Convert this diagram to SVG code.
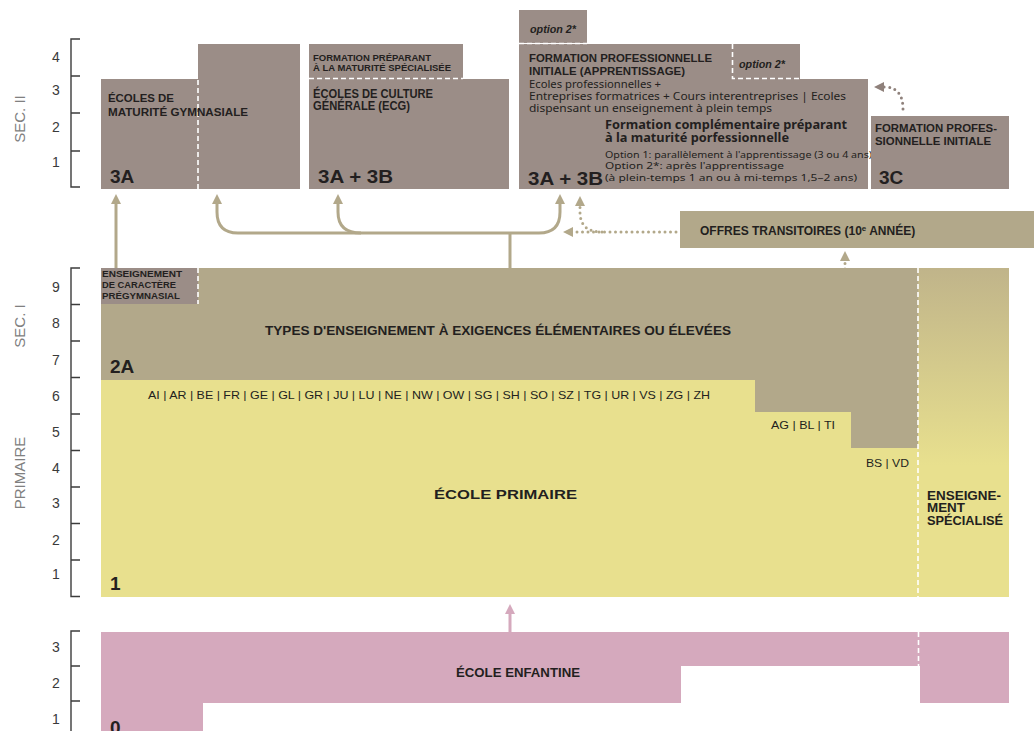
<svg xmlns="http://www.w3.org/2000/svg" width="1034" height="731" viewBox="0 0 1034 731">
<defs>
<style>
.t{font-family:"Liberation Sans",Arial,sans-serif;fill:#231f20}
.b{font-weight:bold}
.big{font-family:"Liberation Sans",Arial,sans-serif;font-weight:bold;font-size:19px;fill:#231f20}
.n{font-family:"Liberation Sans",Arial,sans-serif;font-size:14px;fill:#3a3a3a;text-anchor:middle}
.sec{font-family:"Liberation Sans",Arial,sans-serif;font-size:15px;fill:#808080;text-anchor:middle}
.ns{font-family:"Noto Sans","Liberation Sans",Arial,sans-serif;fill:#231f20}
.grey{fill:#9b8d87}
.khaki{fill:#b2a88a}
.yellow{fill:#e8e08e}
.pink{fill:#d5a9bd}
.axis{fill:none;stroke:#3c3c3c;stroke-width:1.4}
.sep{fill:none;stroke:#ffffff;stroke-width:1.6;stroke-dasharray:5 3}
.con{fill:none;stroke:#b2a88a;stroke-width:3}
.dot{fill:none;stroke:#b2a88a;stroke-width:3;stroke-linecap:round;stroke-dasharray:0 5.5}
.dotg{fill:none;stroke:#8f817b;stroke-width:3;stroke-linecap:round;stroke-dasharray:0 5.5}
.conp{fill:none;stroke:#d5a9bd;stroke-width:3}
</style>
<marker id="ahK" viewBox="0 0 10 10" refX="0" refY="5" markerWidth="10" markerHeight="11" markerUnits="userSpaceOnUse" orient="auto"><path d="M0,0 L10,5 L0,10 z" fill="#b2a88a"/></marker>
<marker id="ahG" viewBox="0 0 10 10" refX="0" refY="5" markerWidth="10" markerHeight="11" markerUnits="userSpaceOnUse" orient="auto"><path d="M0,0 L10,5 L0,10 z" fill="#8f817b"/></marker>
<marker id="ahP" viewBox="0 0 10 10" refX="0" refY="5" markerWidth="10" markerHeight="11" markerUnits="userSpaceOnUse" orient="auto"><path d="M0,0 L10,5 L0,10 z" fill="#d5a9bd"/></marker>
<linearGradient id="gSpec" x1="0" y1="0" x2="0" y2="1">
<stop offset="0" stop-color="#c0b48a"/>
<stop offset="0.6" stop-color="#e8e08e"/>
<stop offset="1" stop-color="#e8e08e"/>
</linearGradient>
</defs>
<rect width="1034" height="731" fill="#ffffff"/>

<!-- axes -->
<g id="axes">
<path class="axis" d="M80,39 H71 V187 H80 M71,76 H80 M71,113 H80 M71,151 H80"/>
<path class="axis" d="M80,268 H71 V596.5 H80 M71,304.5 H80 M71,341 H80 M71,377.5 H80 M71,414 H80 M71,450.5 H80 M71,487 H80 M71,523.5 H80 M71,560 H80"/>
<path class="axis" d="M80,631 H71 V731 M71,666 H80 M71,701 H80"/>
<text class="n" x="56" y="62">4</text>
<text class="n" x="56" y="95">3</text>
<text class="n" x="56" y="132">2</text>
<text class="n" x="56" y="167">1</text>
<text class="n" x="56" y="292">9</text>
<text class="n" x="56" y="328">8</text>
<text class="n" x="56" y="365">7</text>
<text class="n" x="56" y="401">6</text>
<text class="n" x="56" y="437">5</text>
<text class="n" x="56" y="473">4</text>
<text class="n" x="56" y="508">3</text>
<text class="n" x="56" y="545">2</text>
<text class="n" x="56" y="579">1</text>
<text class="n" x="56" y="652">3</text>
<text class="n" x="56" y="688">2</text>
<text class="n" x="56" y="724">1</text>
<text class="sec" transform="translate(25,119) rotate(-90)">SEC. II</text>
<text class="sec" transform="translate(25,326) rotate(-90)">SEC. I</text>
<text class="sec" transform="translate(25,473) rotate(-90)">PRIMAIRE</text>
</g>

<!-- connectors -->
<g id="connectors">
<path class="con" d="M116,268 V204" marker-end="url(#ahK)"/>
<path class="con" d="M510,268 V233"/>
<path class="con" d="M400,233 H238 Q217,233 217,212 V204" marker-end="url(#ahK)"/>
<path class="con" d="M400,233 H539 Q560,233 560,212 V204" marker-end="url(#ahK)"/>
<path class="con" d="M361,233 Q338,233 338,212 V204" marker-end="url(#ahK)"/>
<path class="dot" d="M676,232 H573" marker-end="url(#ahK)"/>
<path class="dot" d="M602,232 Q580,232 580,212 V206" marker-end="url(#ahK)"/>
<path class="dot" d="M845,269 V261" marker-end="url(#ahK)"/>
<path class="dotg" d="M903,109 Q903,87 884,87" marker-end="url(#ahG)"/>
<path class="conp" d="M510,632 V614" marker-end="url(#ahP)"/>
</g>

<!-- SEC II -->
<g id="maturite-gymnasiale">
<path class="grey" d="M101,79 H198 V44 H300 V189 H101 Z"/>
<path class="sep" d="M198,80 V189"/>
<text class="t b" font-size="11.5" x="108" y="102" textLength="66" lengthAdjust="spacingAndGlyphs">ÉCOLES DE</text>
<text class="t b" font-size="11.5" x="108" y="116" textLength="140" lengthAdjust="spacingAndGlyphs">MATURITÉ GYMNASIALE</text>
<text class="big" x="110" y="183">3A</text>
</g>

<g id="ecg">
<rect class="grey" x="309" y="44" width="154" height="35"/>
<rect class="grey" x="309" y="79" width="200" height="110"/>
<path class="sep" d="M309,78.5 H463"/>
<text class="t b" font-size="9" x="313" y="61" textLength="118" lengthAdjust="spacingAndGlyphs">FORMATION PRÉPARANT</text>
<text class="t b" font-size="9" x="313" y="71" textLength="138" lengthAdjust="spacingAndGlyphs">À LA MATURITÉ SPÉCIALISÉE</text>
<text class="t b" font-size="12" x="313" y="98" textLength="120" lengthAdjust="spacingAndGlyphs">ÉCOLES DE CULTURE</text>
<text class="t b" font-size="12" x="313" y="110" textLength="97" lengthAdjust="spacingAndGlyphs">GÉNÉRALE (ECG)</text>
<text class="big" x="318" y="183" textLength="75" lengthAdjust="spacingAndGlyphs">3A + 3B</text>
</g>

<g id="apprentissage">
<rect class="grey" x="519" y="10" width="68" height="33"/>
<path class="grey" d="M519,44 H800 V79 H868 V189 H519 Z"/>
<path class="sep" d="M519,43.5 H587"/>
<path class="sep" d="M732.5,44 V78.5 H800"/>
<text class="t b" font-size="10.5" font-style="italic" x="530" y="33" textLength="46" lengthAdjust="spacingAndGlyphs">option 2*</text>
<text class="t b" font-size="10.5" font-style="italic" x="739" y="68" textLength="46" lengthAdjust="spacingAndGlyphs">option 2*</text>
<text class="t b" font-size="11.5" x="529" y="62" textLength="183" lengthAdjust="spacingAndGlyphs">FORMATION PROFESSIONNELLE</text>
<text class="t b" font-size="11.5" x="529" y="75" textLength="156" lengthAdjust="spacingAndGlyphs">INITIALE (APPRENTISSAGE)</text>
<text class="ns" font-size="10.2" x="529" y="88" textLength="132" lengthAdjust="spacingAndGlyphs">Ecoles professionnelles +</text>
<text class="ns" font-size="10.2" x="529" y="100" textLength="317" lengthAdjust="spacingAndGlyphs">Entreprises formatrices + Cours interentreprises | Ecoles</text>
<text class="ns" font-size="10.2" x="529" y="112" textLength="243" lengthAdjust="spacingAndGlyphs">dispensant un enseignement à plein temps</text>
<text class="ns b" font-size="11.5" x="605" y="128.5" textLength="242" lengthAdjust="spacingAndGlyphs">Formation complémentaire préparant</text>
<text class="ns b" font-size="11.5" x="605" y="141.5" textLength="184" lengthAdjust="spacingAndGlyphs">à la maturité porfessionnelle</text>
<text class="ns" font-size="9.4" x="605" y="158" textLength="267" lengthAdjust="spacingAndGlyphs">Option 1: parallèlement à l'apprentissage (3 ou 4 ans)</text>
<text class="ns" font-size="9.4" x="605" y="169" textLength="179" lengthAdjust="spacingAndGlyphs">Option 2*: après l'apprentissage</text>
<text class="ns" font-size="9.4" x="605" y="181" textLength="252" lengthAdjust="spacingAndGlyphs">(à plein-temps 1 an ou à mi-temps 1,5–2 ans)</text>
<text class="big" x="528" y="185" textLength="75" lengthAdjust="spacingAndGlyphs">3A + 3B</text>
</g>

<g id="formation-3c">
<rect class="grey" x="871" y="116" width="138" height="73"/>
<text class="t b" font-size="11" x="875" y="132" textLength="122" lengthAdjust="spacingAndGlyphs">FORMATION PROFES-</text>
<text class="t b" font-size="11" x="875" y="145" textLength="116" lengthAdjust="spacingAndGlyphs">SIONNELLE INITIALE</text>
<text class="big" x="879" y="184">3C</text>
</g>

<g id="offres-transitoires">
<rect class="khaki" x="680" y="211" width="354" height="37"/>
<text class="t b" font-size="12" x="700" y="235">OFFRES TRANSITOIRES (10<tspan font-size="8" dy="-4">e</tspan><tspan dy="4"> ANNÉE)</tspan></text>
</g>

<!-- PRIMAIRE -->
<g id="ecole-primaire">
<path class="yellow" d="M101,380 H755 V412 H851 V448 H918 V597 H101 Z"/>
<text class="t" font-size="11.5" x="148" y="399" textLength="562" lengthAdjust="spacingAndGlyphs">AI | AR | BE | FR | GE | GL | GR | JU | LU | NE | NW | OW | SG | SH | SO | SZ | TG | UR | VS | ZG | ZH</text>
<text class="t" font-size="11.5" x="771" y="429" textLength="64" lengthAdjust="spacingAndGlyphs">AG | BL | TI</text>
<text class="t" font-size="11.5" x="866" y="467" textLength="43" lengthAdjust="spacingAndGlyphs">BS | VD</text>
<text class="t b" font-size="12" x="434" y="499" textLength="143" lengthAdjust="spacingAndGlyphs">ÉCOLE PRIMAIRE</text>
<text class="big" x="110" y="590">1</text>
</g>

<!-- SEC I -->
<g id="sec1-types">
<path class="khaki" d="M101,268 H918 V448 H851 V412 H755 V380 H101 Z"/>
<text class="t b" font-size="12" x="265" y="335" textLength="466" lengthAdjust="spacingAndGlyphs">TYPES D'ENSEIGNEMENT À EXIGENCES ÉLÉMENTAIRES OU ÉLEVÉES</text>
<text class="big" x="110" y="373">2A</text>
</g>

<g id="pregymnasial">
<rect class="grey" x="101" y="268" width="97" height="36"/>
<path class="sep" d="M198,268 V304"/>
<text class="t b" font-size="9" x="102" y="277" textLength="80" lengthAdjust="spacingAndGlyphs">ENSEIGNEMENT</text>
<text class="t b" font-size="9" x="102" y="288" textLength="74" lengthAdjust="spacingAndGlyphs">DE CARACTÈRE</text>
<text class="t b" font-size="9" x="102" y="299" textLength="78" lengthAdjust="spacingAndGlyphs">PRÉGYMNASIAL</text>
</g>

<g id="enseignement-specialise">
<rect x="918" y="268" width="91" height="329" fill="url(#gSpec)"/>
<path class="sep" d="M918,268 V597"/>
<text class="t b" font-size="12" x="927" y="500" textLength="74" lengthAdjust="spacingAndGlyphs">ENSEIGNE-</text>
<text class="t b" font-size="12" x="927" y="512" textLength="38" lengthAdjust="spacingAndGlyphs">MENT</text>
<text class="t b" font-size="12" x="927" y="525" textLength="76" lengthAdjust="spacingAndGlyphs">SPÉCIALISÉ</text>
</g>

<!-- ENFANTINE -->
<g id="ecole-enfantine">
<path class="pink" d="M101,632 H918 V666 H681 V703 H203 V731 H101 Z"/>
<rect class="pink" x="920" y="632" width="89" height="71"/>
<path class="pink" d="M918,632 H920 V666 H918 Z"/>
<path class="sep" d="M918.5,632 V666"/>
<text class="t b" font-size="12" x="456" y="677" textLength="124" lengthAdjust="spacingAndGlyphs">ÉCOLE ENFANTINE</text>
<text class="big" x="110" y="734">0</text>
</g>
</svg>
